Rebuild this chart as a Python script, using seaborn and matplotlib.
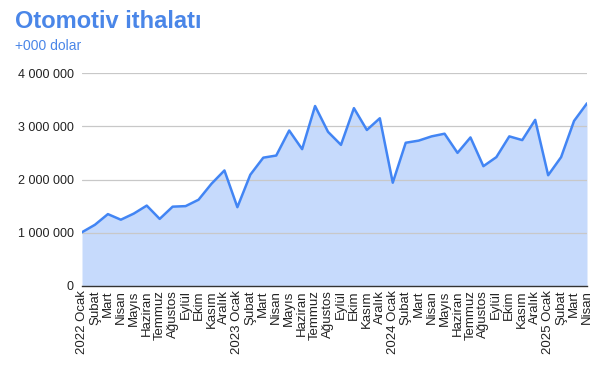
import numpy as np
import pandas as pd
import matplotlib
matplotlib.use("Agg")
import matplotlib.pyplot as plt
import seaborn as sns
from matplotlib.ticker import FuncFormatter

# ---------------------------
# Data (thousand USD)
# ---------------------------
months = ["2022 Ocak", "Şubat", "Mart", "Nisan", "Mayıs", "Haziran", "Temmuz",
          "Ağustos", "Eylül", "Ekim", "Kasım", "Aralık",
          "2023 Ocak", "Şubat", "Mart", "Nisan", "Mayıs", "Haziran", "Temmuz",
          "Ağustos", "Eylül", "Ekim", "Kasım", "Aralık",
          "2024 Ocak", "Şubat", "Mart", "Nisan", "Mayıs", "Haziran", "Temmuz",
          "Ağustos", "Eylül", "Ekim", "Kasım", "Aralık",
          "2025 Ocak", "Şubat", "Mart", "Nisan"]
imports = [1010000, 1150000, 1350000, 1245000, 1360000, 1510000, 1260000,
           1490000, 1500000, 1620000, 1920000, 2170000,
           1480000, 2090000, 2410000, 2450000, 2920000, 2570000, 3380000,
           2895000, 2650000, 3340000, 2930000, 3150000,
           1940000, 2690000, 2730000, 2810000, 2860000, 2500000, 2790000,
           2250000, 2420000, 2810000, 2740000, 3120000,
           2080000, 2420000, 3100000, 3430000]

df = pd.DataFrame({"idx": np.arange(len(months)), "value": imports})

# ---------------------------
# Style
# ---------------------------
sns.set_style("white")
plt.rcParams["font.family"] = ["Liberation Sans", "DejaVu Sans"]

line_color = "#4285f4"
fill_color = "#c6dafc"
title_color = "#4a86e8"

fig = plt.figure(figsize=(6.02, 3.69), dpi=100)
ax = fig.add_axes([82 / 602, 1 - 286 / 369, 505 / 602, 213 / 369])

ax.fill_between(df["idx"], df["value"], 0, color=fill_color, linewidth=0, zorder=1)
sns.lineplot(data=df, x="idx", y="value", ax=ax, color=line_color, linewidth=1.8, zorder=3)

ax.set_xlim(0, len(months) - 1)
ax.set_ylim(0, 4000000)
ax.set_yticks([0, 1000000, 2000000, 3000000, 4000000])
ax.yaxis.set_major_formatter(FuncFormatter(lambda v, p: f"{int(v):,}".replace(",", " ")))
ax.grid(axis="y", color="#c8c8c8", linewidth=0.9, zorder=2)
ax.set_axisbelow(False)

ax.set_xticks(df["idx"])
ax.set_xticklabels(months, rotation=90, ha="center", va="top", fontsize=9.5, color="#222222")
ax.tick_params(axis="y", labelsize=9, colors="#222222", length=0, pad=6)
ax.tick_params(axis="x", length=0, pad=3)
ax.set_xlabel("")
ax.set_ylabel("")

for s in ["top", "right", "left"]:
    ax.spines[s].set_visible(False)
ax.spines["bottom"].set_color("#333333")
ax.spines["bottom"].set_linewidth(1.0)

fig.text(15 / 602, 1 - 21 / 369, "Otomotiv ithalatı", fontsize=17, fontweight="heavy",
         color=title_color, va="center", ha="left")
fig.text(15 / 602, 1 - 46 / 369, "+000 dolar", fontsize=10, color=title_color,
         va="center", ha="left")

fig.savefig("out.png", dpi=100)
